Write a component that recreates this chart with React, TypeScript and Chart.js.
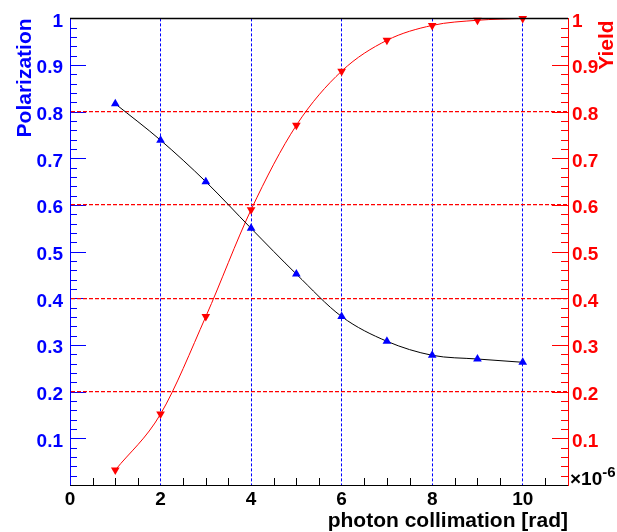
import React, { useEffect, useRef } from 'react';
import { Chart, registerables } from 'chart.js';

Chart.register(...registerables);

// ---- data ----
const collimation = [1, 2, 3, 4, 5, 6, 7, 8, 9, 10];
const polarization = [0.817, 0.739, 0.65, 0.55, 0.452, 0.361, 0.308, 0.278, 0.27, 0.263];
const yieldValues = [0.032, 0.152, 0.361, 0.59, 0.771, 0.887, 0.953, 0.985, 0.996, 1.0];

// ---- axes ----
const X_MIN = 0;
const X_MAX = 11;
const Y_MIN = 0;
const Y_MAX = 1;
const xTickValues = [0, 2, 4, 6, 8, 10];
const xMinorTickValues = [0.5, 1, 1.5, 2.5, 3, 3.5, 4.5, 5, 5.5, 6.5, 7, 7.5, 8.5, 9, 9.5, 10.5, 11];
const yTickValues = [0, 0.1, 0.2, 0.3, 0.4, 0.5, 0.6, 0.7, 0.8, 0.9, 1];
const yGridValues = [0.2, 0.4, 0.6, 0.8];
const yMinorDivisions = 50;

const xTitle = 'photon collimation [rad]';
const yTitle = 'Polarization';
const y1Title = 'Yield';
const exponentBase = '×10';
const exponentPower = '-6';

const FONT = '"Liberation Sans", Arial, Helvetica, sans-serif';
const BLUE = '#0000ff';
const RED = '#ff0000';

const fmt = (v: number) => (Math.abs(v) < 1e-9 ? '' : String(Math.round(v * 10) / 10));
const isGridY = (v: number) => yGridValues.some((g) => Math.abs(g - v) < 1e-6);

const decorPlugin = {
  id: 'rootDecor',
  beforeDraw(chart: any) {
    const { ctx, chartArea: a, scales } = chart;
    const x = scales.x;
    const y = scales.y;
    ctx.save();
    ctx.lineWidth = 1;
    ctx.strokeStyle = '#000';
    ctx.beginPath();
    xMinorTickValues.forEach((v) => {
      const px = Math.round(x.getPixelForValue(v)) + 0.5;
      ctx.moveTo(px, a.bottom);
      ctx.lineTo(px, a.bottom - 7);
    });
    ctx.stroke();
    for (let i = 0; i <= yMinorDivisions; i++) {
      const v = Y_MIN + ((Y_MAX - Y_MIN) * i) / yMinorDivisions;
      const major = i % 5 === 0;
      const len = major ? 16 : 7;
      const py = Math.round(y.getPixelForValue(v)) + 0.5;
      ctx.strokeStyle = BLUE;
      ctx.beginPath();
      ctx.moveTo(a.left, py);
      ctx.lineTo(a.left + len, py);
      ctx.stroke();
      ctx.strokeStyle = RED;
      ctx.beginPath();
      ctx.moveTo(a.right, py);
      ctx.lineTo(a.right - len, py);
      ctx.stroke();
    }
    ctx.restore();
  },
  afterDraw(chart: any) {
    const { ctx, chartArea: a } = chart;
    ctx.save();
    ctx.strokeStyle = '#000';
    ctx.lineWidth = 1.5;
    ctx.beginPath();
    ctx.moveTo(a.left, a.top);
    ctx.lineTo(a.right, a.top);
    ctx.stroke();
    ctx.fillStyle = RED;
    ctx.font = `bold 21px ${FONT}`;
    ctx.translate(613, a.top + 2);
    ctx.rotate(-Math.PI / 2);
    ctx.textAlign = 'right';
    ctx.textBaseline = 'alphabetic';
    ctx.fillText(y1Title, 0, 0);
    ctx.restore();
    ctx.save();
    ctx.fillStyle = '#000';
    ctx.textAlign = 'left';
    ctx.textBaseline = 'alphabetic';
    ctx.font = `bold 19px ${FONT}`;
    const baseX = a.right + 2;
    ctx.fillText(exponentBase, baseX, a.bottom);
    const w = ctx.measureText(exponentBase).width;
    ctx.font = `bold 15px ${FONT}`;
    ctx.fillText(exponentPower, baseX + w, a.bottom - 8);
    ctx.restore();
  },
};

export default function App() {
  const ref = useRef<HTMLCanvasElement | null>(null);

  useEffect(() => {
    if (!ref.current) return;
    const tickFont = { family: FONT, size: 19, weight: 'bold' as const };
    const titleFont = { family: FONT, size: 21, weight: 'bold' as const, lineHeight: 1 };
    const chart = new Chart(ref.current, {
      type: 'line',
      data: {
        datasets: [
          {
            label: 'Polarization',
            data: collimation.map((c, i) => ({ x: c, y: polarization[i] })),
            yAxisID: 'y',
            borderColor: '#000',
            borderWidth: 1,
            pointStyle: 'triangle',
            pointRadius: 5,
            pointBackgroundColor: BLUE,
            pointBorderColor: BLUE,
            pointBorderWidth: 0,
            cubicInterpolationMode: 'monotone',
            clip: false,
          },
          {
            label: 'Yield',
            data: collimation.map((c, i) => ({ x: c, y: yieldValues[i] })),
            yAxisID: 'y1',
            borderColor: RED,
            borderWidth: 1,
            pointStyle: 'triangle',
            pointRotation: 180,
            pointRadius: 5,
            pointBackgroundColor: RED,
            pointBorderColor: RED,
            pointBorderWidth: 0,
            cubicInterpolationMode: 'monotone',
            clip: false,
          },
        ],
      },
      options: {
        animation: false,
        responsive: false,
        devicePixelRatio: 1,
        layout: { padding: { top: 14, left: 0, right: 0, bottom: 0 } },
        plugins: { legend: { display: false }, tooltip: { enabled: false } },
        scales: {
          x: {
            type: 'linear',
            position: 'bottom',
            min: X_MIN,
            max: X_MAX,
            afterBuildTicks: (s: any) => {
              s.ticks = xTickValues.map((v) => ({ value: v }));
            },
            afterFit: (s: any) => {
              s.height = 47;
            },
            ticks: {
              color: '#000',
              font: tickFont,
              padding: 3,
              maxRotation: 0,
              autoSkip: false,
              callback: (v: any) => String(v),
            },
            grid: {
              drawTicks: false,
              lineWidth: 1,
              color: (ctx: any) => (ctx.tick && ctx.tick.value > 0 ? BLUE : 'rgba(0,0,0,0)'),
            },
            border: { display: true, color: '#000', width: 1, dash: [3, 2] },
            title: {
              display: true,
              text: xTitle,
              align: 'end',
              color: '#000',
              font: titleFont,
              padding: { top: 0, bottom: 0 },
            },
          },
          y: {
            type: 'linear',
            position: 'left',
            min: Y_MIN,
            max: Y_MAX,
            afterBuildTicks: (s: any) => {
              s.ticks = yTickValues.map((v) => ({ value: v }));
            },
            afterFit: (s: any) => {
              s.width = 70;
            },
            ticks: {
              color: BLUE,
              font: tickFont,
              padding: 7,
              labelOffset: 3,
              autoSkip: false,
              callback: (v: any) => fmt(Number(v)),
            },
            grid: {
              drawTicks: false,
              lineWidth: 1.2,
              color: (ctx: any) => (ctx.tick && isGridY(ctx.tick.value) ? RED : 'rgba(0,0,0,0)'),
            },
            border: { display: true, color: BLUE, width: 1, dash: [4, 2] },
            title: {
              display: true,
              text: yTitle,
              align: 'end',
              color: BLUE,
              font: titleFont,
              padding: { top: 15, bottom: 0 },
            },
          },
          y1: {
            type: 'linear',
            position: 'right',
            min: Y_MIN,
            max: Y_MAX,
            afterBuildTicks: (s: any) => {
              s.ticks = yTickValues.map((v) => ({ value: v }));
            },
            afterFit: (s: any) => {
              s.width = 49;
            },
            ticks: {
              color: RED,
              font: tickFont,
              padding: 4,
              labelOffset: 3,
              autoSkip: false,
              callback: (v: any) => fmt(Number(v)),
            },
            grid: { display: false, drawTicks: false },
            border: { display: true, color: RED, width: 1 },
            title: { display: false },
          },
        },
      },
      plugins: [decorPlugin],
    } as any);
    return () => chart.destroy();
  }, []);

  return (
    <div style={{ position: 'fixed', left: 0, top: 0, width: 617, height: 532, background: '#fff' }}>
      <canvas ref={ref} width={617} height={532} style={{ display: 'block' }} />
    </div>
  );
}
